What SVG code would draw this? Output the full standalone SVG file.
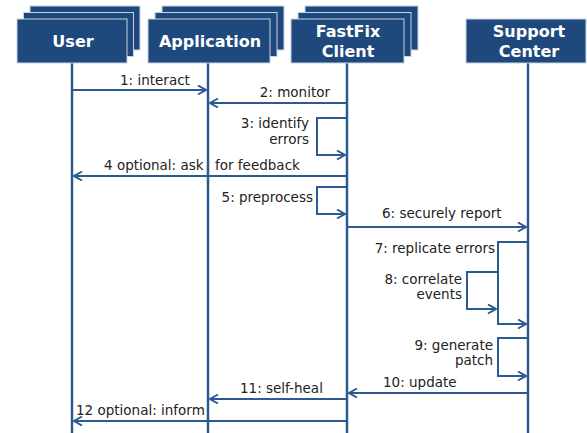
<svg xmlns="http://www.w3.org/2000/svg" width="587" height="433" viewBox="0 0 587 433">
<defs>
<style>
.box{fill:#1F497D;stroke:#C8D3E2;stroke-width:1}
.hdr{fill:#ffffff;font-family:"DejaVu Sans",sans-serif;font-weight:bold;font-size:16px;text-anchor:middle}
.life{stroke:#2C5A92;stroke-width:2.5;fill:none}
.msg{stroke:#2C5A92;stroke-width:2;fill:none;marker-end:url(#ah)}
.lbl{fill:#222222;font-family:"DejaVu Sans",sans-serif;font-size:13.5px}
.e{text-anchor:end}
</style>
<marker id="ah" markerUnits="userSpaceOnUse" markerWidth="12" markerHeight="12" refX="9" refY="5" orient="auto">
<path d="M1,0.5 L9,5 L1,9.5" fill="none" stroke="#2C5A92" stroke-width="2"/>
</marker>
</defs>
<rect width="587" height="433" fill="#ffffff"/>

<g id="lifelines">
<line class="life" x1="72" y1="63" x2="72" y2="433"/>
<line class="life" x1="208" y1="63" x2="208" y2="433"/>
<line class="life" x1="347" y1="63" x2="347" y2="433"/>
<line class="life" x1="528" y1="63" x2="528" y2="433"/>
</g>

<g id="user">
<rect class="box" x="30" y="6" width="110" height="44"/>
<rect class="box" x="23.5" y="12.5" width="110" height="44"/>
<rect class="box" x="17" y="19" width="110" height="44"/>
<text class="hdr" x="73" y="47">User</text>
</g>

<g id="application">
<rect class="box" x="162" y="6" width="122" height="44"/>
<rect class="box" x="155" y="12.5" width="122" height="44"/>
<rect class="box" x="148" y="19" width="122" height="44"/>
<text class="hdr" x="210" y="47">Application</text>
</g>

<g id="fastfix">
<rect class="box" x="305" y="6" width="113" height="44"/>
<rect class="box" x="298" y="12.5" width="113" height="44"/>
<rect class="box" x="291" y="19" width="113" height="44"/>
<text class="hdr" x="348" y="37">FastFix</text>
<text class="hdr" x="348" y="57">Client</text>
</g>

<g id="support">
<rect class="box" x="466" y="19" width="120" height="44"/>
<text class="hdr" x="529" y="37">Support</text>
<text class="hdr" x="529" y="57">Center</text>
</g>

<g id="connectors">
<path class="msg" d="M72,90 H206"/>
<path class="msg" d="M347,103 H210"/>
<path class="msg" d="M347,118 H317 V155 H345"/>
<path class="msg" d="M347,176 H74"/>
<path class="msg" d="M347,187 H317 V214 H345"/>
<path class="msg" d="M347,227 H526"/>
<path class="msg" d="M528,242 H498 V324 H526"/>
<path class="msg" d="M498,272 H467 V309 H496"/>
<path class="msg" d="M528,338 H498 V376 H526"/>
<path class="msg" d="M528,393 H349"/>
<path class="msg" d="M347,399 H210"/>
<path class="msg" d="M347,421 H74"/>
</g>

<g id="labels">
<text class="lbl" x="120" y="85">1: interact</text>
<text class="lbl e" x="330" y="97">2: monitor</text>
<text class="lbl e" x="309" y="128">3: identify</text>
<text class="lbl e" x="309" y="144">errors</text>
<text class="lbl" x="104" y="170">4 optional: ask</text>
<text class="lbl" x="215" y="170">for feedback</text>
<text class="lbl e" x="313" y="202">5: preprocess</text>
<text class="lbl" x="382" y="218">6: securely report</text>
<text class="lbl e" x="495" y="253">7: replicate errors</text>
<text class="lbl e" x="462" y="284">8: correlate</text>
<text class="lbl e" x="462" y="299">events</text>
<text class="lbl e" x="493" y="350">9: generate</text>
<text class="lbl e" x="493" y="365">patch</text>
<text class="lbl" x="383" y="387">10: update</text>
<text class="lbl" x="240" y="393">11: self-heal</text>
<text class="lbl" x="76" y="415">12 optional: inform</text>
</g>
</svg>
